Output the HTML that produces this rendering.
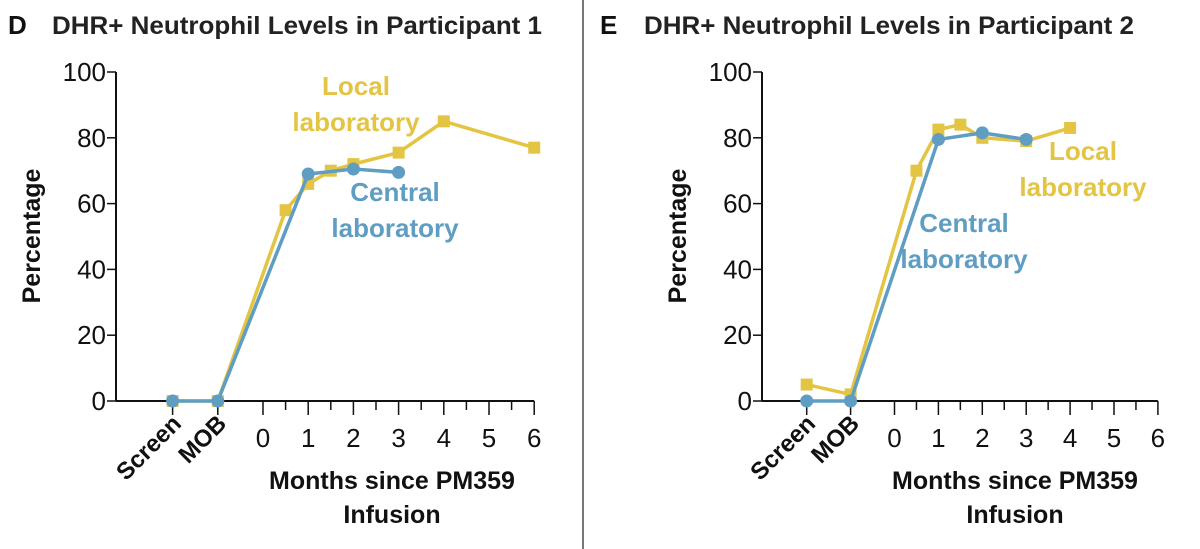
<!DOCTYPE html>
<html><head><meta charset="utf-8">
<style>
body{margin:0;background:#fff;width:1200px;height:549px;overflow:hidden;}
svg{display:block;font-family:"Liberation Sans",sans-serif;}
</style></head>
<body>
<svg id="c" width="1200" height="549">
<line x1="583" y1="0" x2="583" y2="549" stroke="#777" stroke-width="2"/>
</svg>
<script>
const yTicks=[0,20,40,60,80,100];
const xTicks=[0,1,2,3,4,5,6];
const catLabels=["Screen","MOB"];
const catPos=[-2,-1];
const p1LocalX=[-2,-1,0.5,1,1.5,2,3,4,6];
const p1LocalY=[0,0,58,66,70,72,75.5,85,77];
const p1CentralX=[-2,-1,1,2,3];
const p1CentralY=[0,0,69,70.5,69.5];
const p2LocalX=[-2,-1,0.5,1,1.5,2,3,4];
const p2LocalY=[5,2,70,82.5,84,80,79,83];
const p2CentralX=[-2,-1,1,2,3];
const p2CentralY=[0,0,79.5,81.5,79.5];
const YEL="#e3c443",BLU="#5f9dc3";
const NS="http://www.w3.org/2000/svg";
const svg=document.getElementById('c');
function mk(tag,attrs,parent,text){const e=document.createElementNS(NS,tag);for(const k in attrs)e.setAttribute(k,attrs[k]);if(text!==undefined)e.textContent=text;(parent||svg).appendChild(e);return e;}
function panel(o){
 const g=mk('g',{});
 
 
 const sx=v=>o.x0+v*o.dx, sy=v=>401-v*3.29;
 let t=mk('text',{x:o.lx,y:34,'font-size':26,'font-weight':'bold',fill:'#111'},g,o.letter);
 
 t=mk('text',{x:o.lx+44,y:34,'font-size':25,'font-weight':'bold',fill:'#222',textLength:o.tl,lengthAdjust:'spacingAndGlyphs'},g,o.title);
 
 let a=mk('line',{x1:o.ax,y1:72,x2:o.ax,y2:401,stroke:'#111','stroke-width':2},g);
 
 a=mk('line',{x1:o.ax,y1:401,x2:sx(6),y2:401,stroke:'#111','stroke-width':2},g);
 
 yTicks.forEach(v=>{
  mk('line',{x1:o.ax-9,y1:sy(v),x2:o.ax,y2:sy(v),stroke:'#111','stroke-width':1.5},g);
  const l=mk('text',{x:o.ax-10,y:sy(v)+9,'font-size':26,'text-anchor':'end',fill:'#111'},g,v);
  
 });
 for(let h=0;h<=12;h++){const v=h/2;mk('line',{x1:sx(v),y1:401,x2:sx(v),y2:401+(h%2?9:14),stroke:'#111','stroke-width':1.5},g);}
 xTicks.forEach(v=>{const l=mk('text',{x:sx(v),y:447,'font-size':26,'text-anchor':'middle',fill:'#111'},g,v);
  });
 catPos.forEach((v,i)=>{
  mk('line',{x1:sx(v),y1:401,x2:sx(v),y2:415,stroke:'#111','stroke-width':1.5},g);
  const l=mk('text',{x:sx(v)+10,y:425,'font-size':24,'font-weight':'bold','text-anchor':'end',fill:'#111',transform:`rotate(-45 ${sx(v)+10} 425)`},g,catLabels[i]);
  
 });
 t=mk('text',{transform:`translate(${o.ax-76},236) rotate(-90)`,'font-size':25,'font-weight':'bold','text-anchor':'middle',fill:'#111'},g,'Percentage');
 
 t=mk('text',{x:o.xtx,y:489,'font-size':25,'font-weight':'bold','text-anchor':'middle',fill:'#111'},g,'Months since PM359');
 
 t=mk('text',{x:o.xtx,y:523,'font-size':25,'font-weight':'bold','text-anchor':'middle',fill:'#111'},g,'Infusion');
 
 function series(X,Y,col,name,sq){
  const pl=mk('polyline',{points:X.map((x,i)=>sx(x)+','+sy(Y[i])).join(' '),fill:'none',stroke:col,'stroke-width':3.5,'stroke-linejoin':'round'},g);
  
  X.forEach((x,i)=>{let m;
   if(sq)m=mk('rect',{x:sx(x)-6,y:sy(Y[i])-6,width:12,height:12,fill:col},g);
   else m=mk('circle',{cx:sx(x),cy:sy(Y[i]),r:6.5,fill:col},g);
   });
 }
 series(o.lX,o.lY,YEL,'local-lab',true);
 series(o.cX,o.cY,BLU,'central-lab',false);
 o.labels.forEach(L=>{L.lines.forEach((s,i)=>{const e=mk('text',{x:L.x,y:L.y+i*36,'font-size':26,'font-weight':'bold','text-anchor':'middle',fill:L.c},g,s);
  });});
}
panel({name:'panel-d',letter:'D',title:'DHR+ Neutrophil Levels in Participant 1',tl:490,lx:8,ax:116,x0:263,dx:45.2,xtx:392,
 lX:p1LocalX,lY:p1LocalY,cX:p1CentralX,cY:p1CentralY,
 labels:[{lines:['Local','laboratory'],x:356,y:95,c:YEL,n:'local-lab-label'},{lines:['Central','laboratory'],x:395,y:201,c:BLU,n:'central-lab-label'}]});
panel({name:'panel-e',letter:'E',title:'DHR+ Neutrophil Levels in Participant 2',tl:490,lx:600,ax:762,x0:894.5,dx:43.9,xtx:1015,
 lX:p2LocalX,lY:p2LocalY,cX:p2CentralX,cY:p2CentralY,
 labels:[{lines:['Local','laboratory'],x:1083,y:160,c:YEL,n:'local-lab-label'},{lines:['Central','laboratory'],x:964,y:232,c:BLU,n:'central-lab-label'}]});
</script>
</body></html>
